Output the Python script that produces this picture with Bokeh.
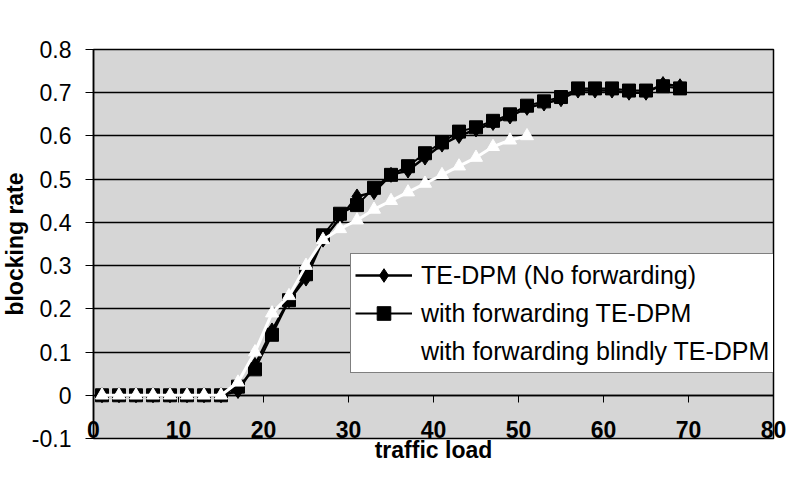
from bokeh.plotting import figure
from bokeh.models import Range1d, FixedTicker, Title, CustomJSTickFormatter, LinearAxis
from bokeh.embed import file_html
from bokeh.resources import INLINE

# ---- data ----
traffic_load = [1, 3, 5, 7, 9, 11, 13, 15, 17, 19, 21, 23, 25, 27, 29, 31, 33, 35,
                37, 39, 41, 43, 45, 47, 49, 51, 53, 55, 57, 59, 61, 63, 65, 67, 69]
no_forwarding = [0, 0, 0, 0, 0, 0, 0, 0.0, 0.01, 0.07, 0.15, 0.22, 0.27, 0.36, 0.41,
                 0.46, 0.47, 0.51, 0.52, 0.55, 0.58, 0.60, 0.615, 0.63, 0.645, 0.665,
                 0.675, 0.685, 0.705, 0.705, 0.705, 0.70, 0.70, 0.72, 0.715]
with_forwarding = [0, 0, 0, 0, 0, 0, 0, 0.0, 0.02, 0.06, 0.14, 0.22, 0.28, 0.37, 0.42,
                   0.44, 0.48, 0.51, 0.53, 0.56, 0.585, 0.61, 0.62, 0.635, 0.65, 0.67,
                   0.68, 0.69, 0.71, 0.71, 0.71, 0.705, 0.705, 0.715, 0.71]
blind_load = [1, 3, 5, 7, 9, 11, 13, 15, 17, 19, 21, 23, 25, 27, 29, 31, 33, 35,
              37, 39, 41, 43, 45, 47, 49, 51]
blind_forwarding = [0, 0, 0, 0, 0, 0, 0, 0.0, 0.03, 0.10, 0.19, 0.23, 0.30, 0.36, 0.385,
                    0.405, 0.43, 0.45, 0.47, 0.49, 0.51, 0.53, 0.55, 0.575, 0.59, 0.60]

series_names = ["TE-DPM (No forwarding)", "with forwarding TE-DPM",
                "with forwarding blindly TE-DPM"]
x_ticks = [0, 10, 20, 30, 40, 50, 60, 70, 80]
y_ticks = [-0.1, 0, 0.1, 0.2, 0.3, 0.4, 0.5, 0.6, 0.7, 0.8]
x_title = "traffic load"
y_title = "blocking rate"

FONT = "Liberation Sans"

p = figure(frame_width=680, frame_height=389, output_backend="svg",
           toolbar_location=None,
           x_range=Range1d(0, 80), y_range=Range1d(-0.1, 0.8),
           min_border_left=92, min_border_right=14, min_border_top=49,
           min_border_bottom=20)

p.background_fill_color = "#d6d6d6"
p.border_fill_color = "white"
p.outline_line_color = "black"
p.outline_line_width = 1.5

# grid
p.xgrid.visible = False
p.ygrid.ticker = FixedTicker(ticks=y_ticks)
p.ygrid.grid_line_color = "black"
p.ygrid.grid_line_width = 1.5

# bottom axis: only labels (pulled up inside the frame) and the title
xa = p.xaxis[0]
xa.ticker = FixedTicker(ticks=x_ticks)
xa.axis_line_color = None
xa.major_tick_line_color = None
xa.minor_tick_line_color = None
xa.major_tick_in = 0
xa.major_tick_out = 0
xa.major_label_standoff = -18
xa.major_label_text_font = FONT
xa.major_label_text_font_size = "23px"
xa.major_label_text_font_style = "bold"
xa.major_label_text_color = "black"
xa.axis_label = x_title
xa.axis_label_standoff = -4
xa.axis_label_text_font = FONT
xa.axis_label_text_font_size = "23px"
xa.axis_label_text_font_style = "bold"
xa.axis_label_text_color = "black"

# category line at y = 0 with ticks hanging down (no labels of its own)
zero_axis = LinearAxis(fixed_location=0, ticker=FixedTicker(ticks=x_ticks),
                       axis_line_color="black", axis_line_width=1.5,
                       major_tick_in=0, major_tick_out=7,
                       major_tick_line_color="black", minor_tick_line_color=None,
                       major_label_text_color=None)
zero_axis.level = "underlay"
p.add_layout(zero_axis, "below")

ya = p.yaxis[0]
ya.ticker = FixedTicker(ticks=y_ticks)
ya.formatter = CustomJSTickFormatter(code="return Math.abs(tick) < 1e-9 ? '0' : tick.toFixed(1);")
ya.axis_line_color = "black"
ya.axis_line_width = 1.5
ya.major_tick_in = 0
ya.major_tick_out = 8
ya.minor_tick_line_color = None
ya.major_label_standoff = 14
ya.major_label_text_font = FONT
ya.major_label_text_font_size = "23px"
ya.major_label_text_color = "black"

# series
p.line(traffic_load, no_forwarding, line_color="black", line_width=2.5,
       legend_label=series_names[0])
p.scatter(traffic_load, no_forwarding, marker="diamond", size=15,
          fill_color="black", line_color="black", legend_label=series_names[0])

p.line(traffic_load, with_forwarding, line_color="black", line_width=2,
       legend_label=series_names[1])
p.scatter(traffic_load, with_forwarding, marker="square", size=13,
          fill_color="black", line_color="black", legend_label=series_names[1])

p.line(blind_load, blind_forwarding, line_color="white", line_width=3,
       legend_label=series_names[2])
p.scatter(blind_load, blind_forwarding, marker="triangle", size=13,
          fill_color="white", line_color="white", legend_label=series_names[2])

# legend
lg = p.legend[0]
lg.location = (257, 65)
lg.border_line_color = "black"
lg.border_line_width = 1.5
lg.background_fill_color = "white"
lg.background_fill_alpha = 1.0
lg.label_text_font = FONT
lg.label_text_font_size = "25px"
lg.label_text_color = "black"
lg.padding = 4
lg.spacing = 4
lg.margin = 0
lg.glyph_width = 57
lg.glyph_height = 34
lg.label_height = 34
lg.label_standoff = 9

# y axis title
p.add_layout(Title(text=y_title, align="center", vertical_align="middle",
                   standoff=0, text_font=FONT, text_font_size="23px",
                   text_font_style="bold", text_color="black"), "left")

open("out.html", "w").write(file_html(p, INLINE))
